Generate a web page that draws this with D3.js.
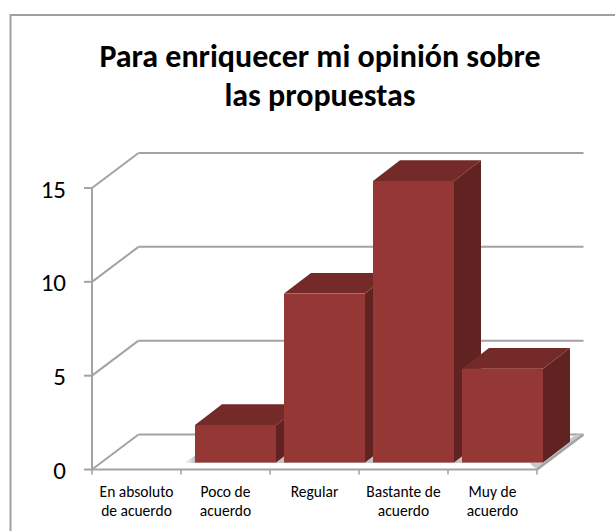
<!DOCTYPE html>
<html><head><meta charset="utf-8">
<script src="https://cdn.jsdelivr.net/npm/d3@7"></script>
<style>html,body{margin:0;padding:0;background:#fff}svg{display:block}text{font-family:Carlito,"Open Sans","Noto Sans",sans-serif;fill:#000}</style>
</head><body><svg id="c" width="615" height="531"></svg>
<script>
const categories=[["En absoluto","de acuerdo"],["Poco de","acuerdo"],["Regular"],["Bastante de","acuerdo"],["Muy de","acuerdo"]];
const values=[0,2,9,15,5];
const yTicks=[0,5,10,15];
const titleLines=["Para enriquecer mi opinión sobre","las propuestas"];
const svg=d3.select("#c");
const grid="#a3a3a3";
const defs=svg.append("defs");
const lg=defs.append("linearGradient").attr("id","sh");
lg.append("stop").attr("offset",0).attr("stop-color","#fff");
lg.append("stop").attr("offset",1).attr("stop-color","#bdbdbd");
svg.append("rect").attr("x",10.5).attr("y",15).attr("width",640).attr("height",560).attr("fill","#fff").attr("stroke","#a0a0a0").attr("stroke-width",2);
const x=d3.scaleBand().domain(d3.range(5)).range([92,537]);
const y=d3.scaleLinear().domain([0,15]).range([469.5,188]);
const dx=46.5,dy=35;
const line=(a,b,c,d,w=2)=>svg.append("line").attr("x1",a).attr("y1",b).attr("x2",c).attr("y2",d).attr("stroke",grid).attr("stroke-width",w);
yTicks.forEach(t=>{
  const p=y(t);
  line(92,p,92+dx,p-dy);
  line(92+dx,p-dy,537+dx,p-dy);
  line(84,p,92,p);
  svg.append("text").attr("x",66).attr("y",p+9.5).attr("text-anchor","end").attr("font-size",25).text(t);
});
line(92,y(0),92,y(15));
line(92,y(0),537,y(0));
d3.range(6).forEach(i=>{const p=i<5?x(i):537;line(p,y(0),p,y(0)+5,1.6);});
svg.append("path").attr("d",`M${537-7},${y(0)-6}L${537+dx-7},${y(0)-dy}L${537+dx},${y(0)-dy}L${537},${y(0)}Z`).attr("fill","#c9c9c9");
line(537,y(0),537+dx,y(0)-dy,2.4);
svg.append("rect").attr("x",196).attr("y",457).attr("width",348).attr("height",6).attr("fill","#c4c4c4");
svg.append("path").attr("d",`M184,463L196,455L196,463Z`).attr("fill","url(#sh)");
const ox=14,oy=7,bw=81,ddx=27,ddy=20.7;
values.forEach((v,i)=>{
  if(!v)return;
  const x0=x(i)+ox+(x.bandwidth()-bw)/2-4,top=y(v)-oy,bot=y(0)-oy;
  const g=svg.append("g");
  g.append("path").attr("d",`M${x0+bw},${top}L${x0+bw+ddx},${top-ddy}L${x0+bw+ddx},${bot-ddy}L${x0+bw},${bot}Z`).attr("fill","#602321");
  g.append("path").attr("d",`M${x0},${top}L${x0+ddx},${top-ddy}L${x0+bw+ddx},${top-ddy}L${x0+bw},${top}Z`).attr("fill","#732a28");
  g.append("rect").attr("x",x0).attr("y",top).attr("width",bw).attr("height",bot-top).attr("fill","#953735");
});
categories.forEach((lines,i)=>{
  const cx=x(i)+x.bandwidth()/2;
  lines.forEach((s,j)=>svg.append("text").attr("x",cx).attr("y",496.5+j*19).attr("text-anchor","middle").attr("font-size",15.5).text(s));
});
titleLines.forEach((s,j)=>svg.append("text").attr("x",320).attr("y",[66.5,106][j]).attr("text-anchor","middle").attr("font-size",32).attr("font-weight",700).text(s));
</script></body></html>
